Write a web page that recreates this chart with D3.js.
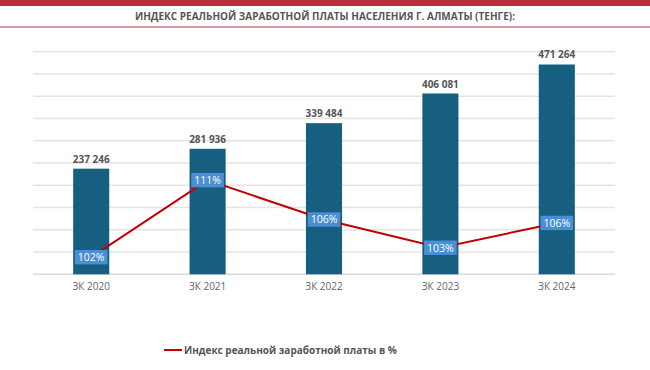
<!DOCTYPE html>
<html>
<head>
<meta charset="utf-8">
<script src="https://cdn.jsdelivr.net/npm/d3@7"></script>
<style>
  body { margin: 0; background: #fff; }
  svg { font-family: "Open Sans", sans-serif; }
</style>
</head>
<body>
<svg id="chart" width="650" height="370"></svg>
<script>
// Chart data
const years = ["ЗК 2020", "ЗК 2021", "ЗК 2022", "ЗК 2023", "ЗК 2024"];
const wages = [237246, 281936, 339484, 406081, 471264];
const wageIndex = [102, 111, 106.4, 103.1, 106];
const indexLabels = ["102%", "111%", "106%", "103%", "106%"];

const title = "ИНДЕКС РЕАЛЬНОЙ ЗАРАБОТНОЙ ПЛАТЫ НАСЕЛЕНИЯ Г. АЛМАТЫ (ТЕНГЕ):";
const legendLabel = "Индекс реальной заработной платы в %";

const svg = d3.select("#chart");
const fmt = d => d3.format(",")(d).replace(/,/g, " ");

// Header band + title
svg.append("rect").attr("x", 0).attr("y", 0).attr("width", 650).attr("height", 6).attr("fill", "#b5303a");
svg.append("text")
    .attr("x", 325).attr("y", 19.5)
    .attr("text-anchor", "middle")
    .attr("font-size", "10px").attr("font-weight", "bold")
    .attr("fill", "#555")
    .text(title);
svg.append("line")
    .attr("x1", 0).attr("x2", 650).attr("y1", 27).attr("y2", 27)
    .attr("stroke", "#b5303a").attr("stroke-width", 1.2);

// Scales
const x = d3.scaleBand().domain(years).range([33, 615]).paddingInner(0.69).paddingOuter(0.345);
const y = d3.scaleLinear().domain([0, 500000]).range([274.3, 51.7]);
const y2 = d3.scaleLinear().domain([100, 126]).range([274.3, 51.7]);

// Grid lines
svg.append("g")
    .selectAll("line")
    .data(y.ticks(10))
    .enter()
    .append("line")
    .attr("x1", 33).attr("x2", 615)
    .attr("y1", d => y(d)).attr("y2", d => y(d))
    .attr("stroke", d => d === 0 ? "#d9d9d9" : "#e4e4e4")
    .attr("stroke-width", 1.5);

// Bars
svg.selectAll(".bar")
    .data(wages)
    .enter()
    .append("rect")
    .attr("class", "bar")
    .attr("x", (d, i) => x(years[i]))
    .attr("width", x.bandwidth())
    .attr("y", d => y(d))
    .attr("height", d => y(0) - y(d))
    .attr("fill", "#175f80");

// Bar value labels
svg.selectAll(".bar-label")
    .data(wages)
    .enter()
    .append("text")
    .attr("class", "bar-label")
    .attr("x", (d, i) => x(years[i]) + x.bandwidth() / 2)
    .attr("y", d => y(d) - 6)
    .attr("text-anchor", "middle")
    .attr("font-size", "10px").attr("font-weight", "bold")
    .attr("fill", "#555")
    .text(fmt);

// X axis labels
svg.append("g")
    .attr("transform", `translate(0, ${y(0)})`)
    .call(d3.axisBottom(x).tickSize(0).tickPadding(9))
    .call(g => g.select(".domain").remove())
    .call(g => g.selectAll("text")
        .attr("font-size", "10px")
        .attr("font-family", "Open Sans, sans-serif")
        .attr("fill", "#666"));

// Index line
const line = d3.line()
    .x((d, i) => x(years[i]) + x.bandwidth() / 2)
    .y(d => y2(d));

svg.append("path")
    .datum(wageIndex)
    .attr("fill", "none")
    .attr("stroke", "#c00000")
    .attr("stroke-width", 2)
    .attr("d", line);

// Index labels
const lbl = svg.selectAll(".idx-label")
    .data(wageIndex)
    .enter()
    .append("g")
    .attr("class", "idx-label")
    .attr("transform", (d, i) => `translate(${x(years[i]) + x.bandwidth() / 2}, ${y2(d)})`);

lbl.append("rect")
    .attr("x", -16.3).attr("y", -7.2)
    .attr("width", 32.6).attr("height", 14.4)
    .attr("fill", "#4a8fd3");

lbl.append("text")
    .attr("text-anchor", "middle")
    .attr("dy", "0.36em")
    .attr("font-size", "10.5px")
    .attr("fill", "#fff")
    .text((d, i) => indexLabels[i]);

// Legend
svg.append("line")
    .attr("x1", 164).attr("x2", 182).attr("y1", 350).attr("y2", 350)
    .attr("stroke", "#c00000").attr("stroke-width", 2);
svg.append("text")
    .attr("x", 184).attr("y", 350)
    .attr("dy", "0.35em")
    .attr("font-size", "10px").attr("font-weight", "bold")
    .attr("fill", "#555")
    .text(legendLabel);
</script>
</body>
</html>
